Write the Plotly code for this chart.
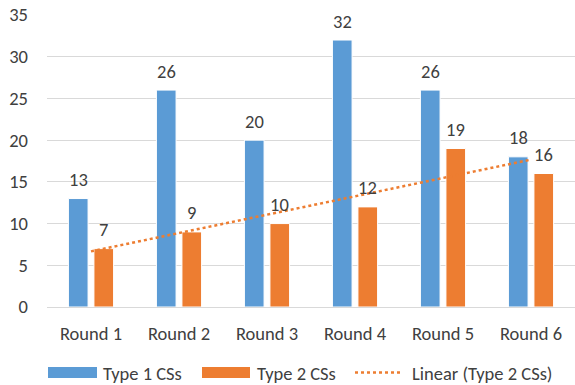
import numpy as np
import plotly.graph_objects as go

# Chart data
rounds = ["Round 1", "Round 2", "Round 3", "Round 4", "Round 5", "Round 6"]
type1_css = [13, 26, 20, 32, 26, 18]
type2_css = [7, 9, 10, 12, 19, 16]
y_ticks = [0, 5, 10, 15, 20, 25, 30, 35]

BLUE = "#5B9BD5"
ORANGE = "#ED7D31"
TEXT = "#404040"
FONT = "Carlito, Lato, sans-serif"
FS = 18.5

# Least-squares linear trend for Type 2 CSs
xi = np.arange(1, len(type2_css) + 1)
slope, intercept = np.polyfit(xi, type2_css, 1)
trend = slope * xi + intercept

W, H = 575, 385
ML, MR, MT, MB = 47, 0, 15, 78
plot_w = W - ML - MR
plot_h = H - MT - MB

fig = go.Figure()
fig.add_trace(go.Bar(
    x=rounds, y=type1_css, name="Type 1 CSs",
    marker=dict(color=BLUE, line=dict(color="white", width=1)),
))
fig.add_trace(go.Bar(
    x=rounds, y=type2_css, name="Type 2 CSs",
    marker=dict(color=ORANGE, line=dict(color="white", width=1)),
))
fig.add_trace(go.Scatter(
    x=rounds, y=trend, mode="lines", name="Linear (Type 2 CSs)",
    line=dict(color=ORANGE, width=2.5, dash="dot"),
))

# Value labels above each bar
BAR_OFFSET = 12.8  # px from category centre to each bar's centre
annotations = []
for series, dx in ((type1_css, -BAR_OFFSET), (type2_css, BAR_OFFSET)):
    for r, v in zip(rounds, series):
        annotations.append(dict(
            x=r, y=v, xref="x", yref="y", text=str(v), showarrow=False,
            xanchor="center", yanchor="middle", xshift=dx, yshift=19,
            font=dict(family=FONT, size=FS, color=TEXT)))

# Legend drawn below the plot area
def px_x(px):
    return (px - ML) / plot_w

def px_y(py):
    return (H - MB - py) / plot_h

shapes = [
    dict(type="rect", xref="paper", yref="paper",
         x0=px_x(48), x1=px_x(97), y0=px_y(378), y1=px_y(367),
         fillcolor=BLUE, line=dict(width=0)),
    dict(type="rect", xref="paper", yref="paper",
         x0=px_x(202), x1=px_x(250), y0=px_y(378), y1=px_y(367),
         fillcolor=ORANGE, line=dict(width=0)),
    dict(type="line", xref="paper", yref="paper",
         x0=px_x(355), x1=px_x(400), y0=px_y(372.5), y1=px_y(372.5),
         line=dict(color=ORANGE, width=2.5, dash="dot")),
]
for t, x in [("Type 1 CSs", 101), ("Type 2 CSs", 255), ("Linear (Type 2 CSs)", 410)]:
    annotations.append(dict(
        text=t, xref="paper", yref="paper", x=px_x(x), y=px_y(373),
        xanchor="left", yanchor="middle", showarrow=False,
        font=dict(family=FONT, size=FS, color=TEXT)))

fig.update_layout(
    width=W, height=H,
    margin=dict(l=ML, r=MR, t=MT, b=MB),
    paper_bgcolor="white", plot_bgcolor="white",
    barmode="group", bargap=0.42, bargroupgap=0.23,
    showlegend=False,
    font=dict(family=FONT, size=FS, color=TEXT),
    shapes=shapes, annotations=annotations,
    xaxis=dict(showgrid=False, showline=True, linecolor="#D9D9D9", linewidth=1,
               ticks="", ticklabelstandoff=10,
               tickfont=dict(family=FONT, size=FS, color=TEXT)),
    yaxis=dict(range=[0, 35], tickvals=y_ticks, showgrid=True,
               gridcolor="#D9D9D9", gridwidth=1, zeroline=False,
               showline=False, ticks="", ticklabelstandoff=18,
               tickfont=dict(family=FONT, size=FS, color=TEXT)),
)

fig.write_html("out.html")
